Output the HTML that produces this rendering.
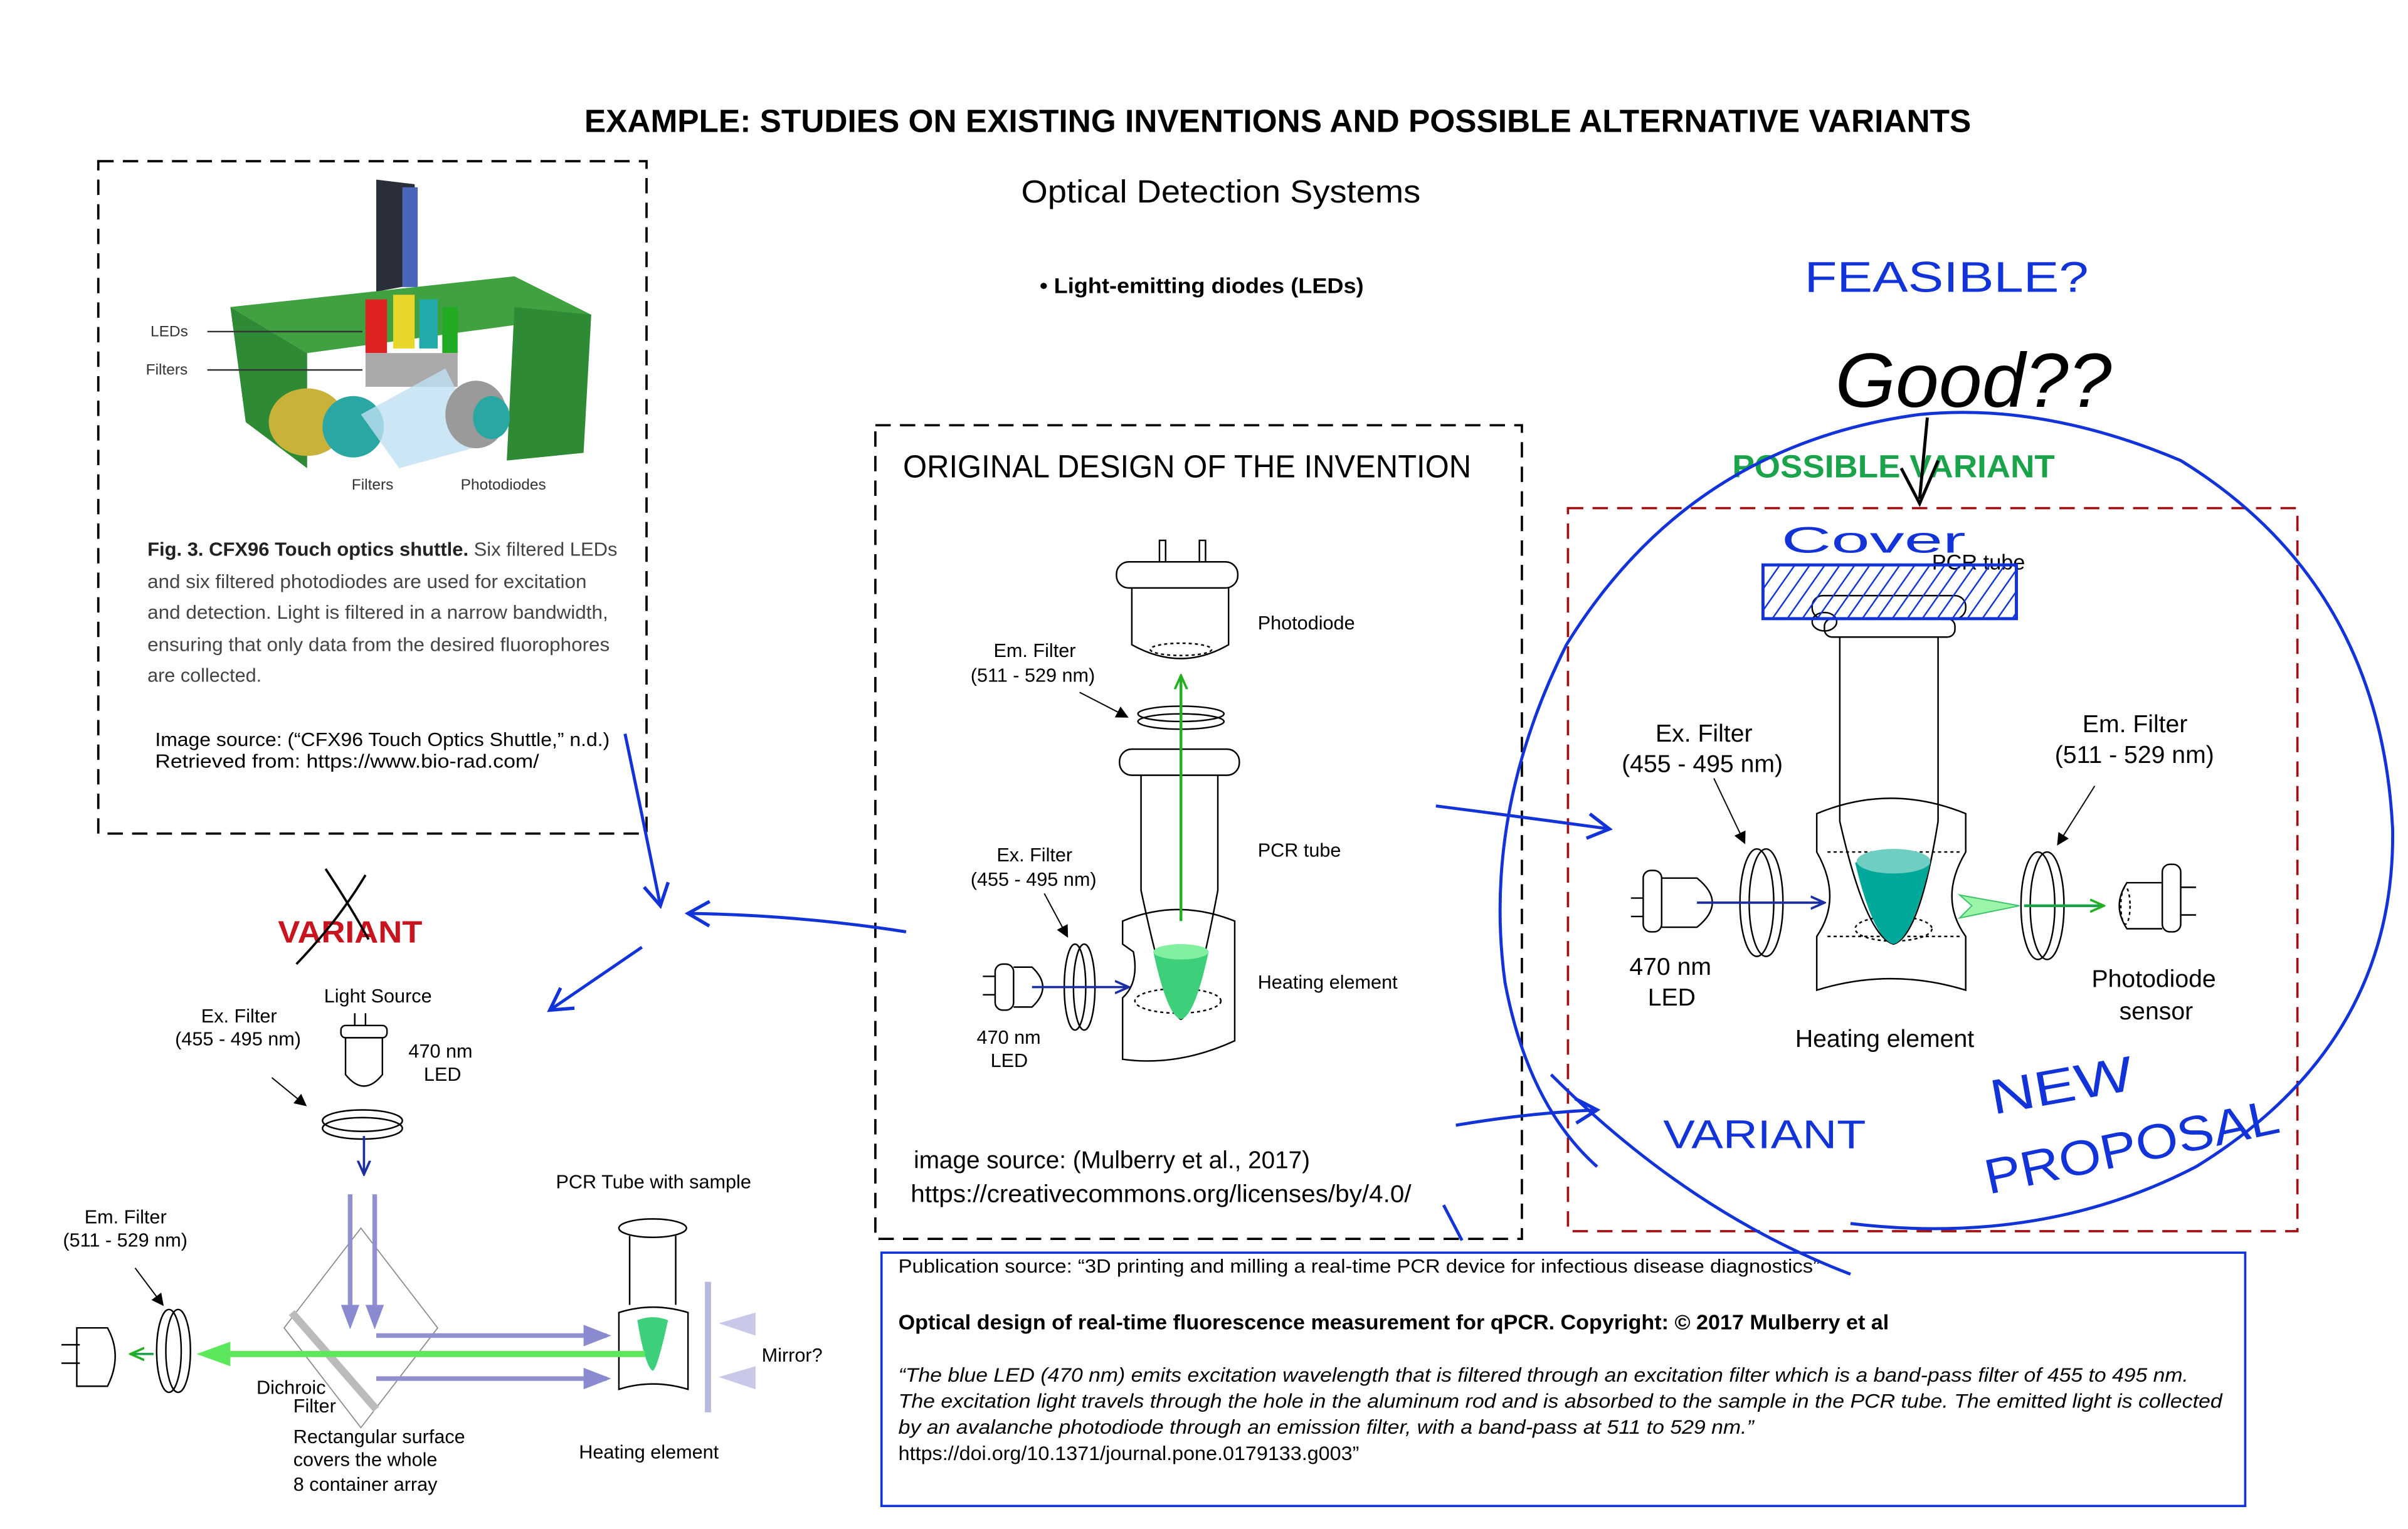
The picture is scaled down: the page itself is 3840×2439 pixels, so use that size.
<!DOCTYPE html>
<html><head><meta charset="utf-8">
<style>
html,body{margin:0;padding:0;background:#fff;}
svg{display:block;}
text{font-family:"Liberation Sans",sans-serif;}
</style></head>
<body>
<svg width="3840" height="2439" viewBox="0 0 1568 996" preserveAspectRatio="none" xmlns="http://www.w3.org/2000/svg">
<rect width="1568" height="996" fill="#fff"/>
<defs>
<marker id="ab" markerWidth="10" markerHeight="10" refX="9" refY="5" orient="auto" markerUnits="userSpaceOnUse"><path d="M0,1 L9,5 L0,9" fill="none" stroke="#1c2fa0" stroke-width="1.5"/></marker>
<marker id="ag" markerWidth="10" markerHeight="10" refX="9" refY="5" orient="auto" markerUnits="userSpaceOnUse"><path d="M0,1 L9,5 L0,9" fill="none" stroke="#22b022" stroke-width="1.5"/></marker>
<marker id="ak" markerWidth="8" markerHeight="8" refX="7" refY="4" orient="auto" markerUnits="userSpaceOnUse"><path d="M0,0 L8,4 L0,8z" fill="#000"/></marker>
<marker id="ahb" markerWidth="20" markerHeight="20" refX="16" refY="10" orient="auto" markerUnits="userSpaceOnUse"><path d="M2,2 L16,10 L2,18" fill="none" stroke="#1233d8" stroke-width="2.2"/></marker>
<pattern id="hatch" width="8" height="8" patternUnits="userSpaceOnUse" patternTransform="rotate(35)"><line x1="0" y1="0" x2="0" y2="8" stroke="#1233d8" stroke-width="2"/></pattern>
</defs>

<text x="832" y="86" text-anchor="middle" font-weight="bold" font-size="21" textLength="903" lengthAdjust="spacingAndGlyphs">EXAMPLE: STUDIES ON EXISTING INVENTIONS AND POSSIBLE ALTERNATIVE VARIANTS</text>
<text x="665" y="132" font-size="21" textLength="260" lengthAdjust="spacingAndGlyphs">Optical Detection Systems</text>
<text x="677" y="191" font-size="14" font-weight="bold" textLength="211" lengthAdjust="spacingAndGlyphs">• Light-emitting diodes (LEDs)</text>

<rect x="64" y="105" width="357" height="438" fill="none" stroke="#000" stroke-width="1.5" stroke-dasharray="10,6"/>
<polygon points="245,117 270,120 272,185 245,190" fill="#2a2d3a"/>
<rect x="262" y="122" width="10" height="65" fill="#4a66b8"/>
<polygon points="150,200 335,180 385,205 200,230" fill="#3fa13f"/>
<polygon points="150,200 200,230 200,305 160,275" fill="#2e8a34"/>
<polygon points="335,200 385,205 380,295 330,300" fill="#2e8a34"/>
<rect x="238" y="195" width="14" height="35" fill="#d22"/><rect x="256" y="192" width="14" height="35" fill="#e8d62a"/><rect x="273" y="195" width="12" height="32" fill="#2aa"/><rect x="288" y="200" width="10" height="30" fill="#2a2"/>
<rect x="238" y="230" width="60" height="22" fill="#aaa"/>
<ellipse cx="200" cy="275" rx="25" ry="22" fill="#c8b23a"/><ellipse cx="230" cy="278" rx="20" ry="20" fill="#2aa7a2"/>
<polygon points="235,270 290,240 315,290 260,305" fill="#bfe0f2" opacity="0.8"/>
<ellipse cx="310" cy="270" rx="20" ry="22" fill="#9a9a9a"/><ellipse cx="320" cy="272" rx="12" ry="14" fill="#2aa7a2"/>
<g font-size="10" fill="#333">
<text x="98" y="219">LEDs</text><line x1="135" y1="216" x2="236" y2="216" stroke="#333"/>
<text x="95" y="244">Filters</text><line x1="135" y1="241" x2="236" y2="241" stroke="#333"/>
<text x="229" y="319">Filters</text><text x="300" y="319">Photodiodes</text>
</g>
<g font-size="12.5" fill="#444">
<text x="96" y="362" textLength="306" lengthAdjust="spacingAndGlyphs"><tspan font-weight="bold" fill="#222">Fig. 3. CFX96 Touch optics shuttle.</tspan> Six filtered LEDs</text>
<text x="96" y="383" textLength="286" lengthAdjust="spacingAndGlyphs">and six filtered photodiodes are used for excitation</text>
<text x="96" y="403" textLength="300" lengthAdjust="spacingAndGlyphs">and detection. Light is filtered in a narrow bandwidth,</text>
<text x="96" y="424" textLength="301" lengthAdjust="spacingAndGlyphs">ensuring that only data from the desired fluorophores</text>
<text x="96" y="444">are collected.</text>
</g>
<text x="101" y="486" font-size="12.5" textLength="296" lengthAdjust="spacingAndGlyphs">Image source:  (“CFX96 Touch Optics Shuttle,” n.d.)</text>
<text x="101" y="500" font-size="12.5" textLength="250" lengthAdjust="spacingAndGlyphs">Retrieved from: https://www.bio-rad.com/</text>

<rect x="570" y="277" width="421" height="530" fill="none" stroke="#000" stroke-width="1.5" stroke-dasharray="10,6"/>
<text x="588" y="311" font-size="21" textLength="370" lengthAdjust="spacingAndGlyphs">ORIGINAL DESIGN OF THE INVENTION</text>
<g fill="none" stroke="#000" stroke-width="1">
<rect x="755" y="352" width="4" height="14"/><rect x="781" y="352" width="4" height="14"/>
<rect x="727" y="366" width="79" height="17" rx="8"/>
<path d="M737,383 V420 Q769,438 800,420 V383"/>
<ellipse cx="769" cy="423" rx="20" ry="4" stroke-dasharray="2,2"/>
<ellipse cx="769" cy="465" rx="28" ry="5"/><ellipse cx="769" cy="470" rx="28" ry="5"/>
<rect x="729" y="488" width="78" height="17" rx="8"/>
<path d="M743,505 V580 Q760,660 769,664 Q778,660 793,580 V505"/>
<path d="M731,600 Q767,585 804,600 V678 Q767,695 731,690 V650 Q742,640 738,620 L731,615 Z"/>
<ellipse cx="767" cy="652" rx="28" ry="8" stroke-dasharray="2,2"/>
<path d="M640,636 H648 M640,648 H648"/><rect x="648" y="628" width="12" height="30" rx="5"/>
<path d="M660,630 H672 Q686,643 672,656 H660"/>
<ellipse cx="700" cy="643" rx="7" ry="28"/><ellipse cx="706" cy="643" rx="7" ry="28"/>
</g>
<path d="M751,620 Q769,610 787,620 Q778,662 769,664 Q760,662 751,620Z" fill="#3ecf7a"/>
<ellipse cx="769" cy="620" rx="18" ry="5" fill="#82f0a0"/>
<line x1="769" y1="600" x2="769" y2="440" stroke="#22b022" stroke-width="1.8" marker-end="url(#ag)"/>
<line x1="672" y1="643" x2="735" y2="643" stroke="#1c2fa0" stroke-width="1.5" marker-end="url(#ab)"/>
<line x1="703" y1="451" x2="734" y2="467" stroke="#000" stroke-width="0.8" marker-end="url(#ak)"/>
<line x1="680" y1="582" x2="695" y2="610" stroke="#000" stroke-width="0.8" marker-end="url(#ak)"/>
<g font-size="12.5">
<text x="819" y="410">Photodiode</text>
<text x="647" y="428">Em. Filter</text><text x="632" y="444">(511 - 529 nm)</text>
<text x="819" y="558">PCR tube</text>
<text x="649" y="561">Ex. Filter</text><text x="632" y="577">(455 - 495 nm)</text>
<text x="819" y="644">Heating element</text>
<text x="636" y="680">470 nm</text><text x="645" y="695">LED</text>
</g>
<text x="595" y="761" font-size="16" textLength="258" lengthAdjust="spacingAndGlyphs">image source: (Mulberry et al., 2017)</text>
<text x="593" y="783" font-size="16" textLength="326" lengthAdjust="spacingAndGlyphs">https://creativecommons.org/licenses/by/4.0/</text>

<text x="1128" y="311" font-size="21" font-weight="bold" fill="#1aa34a" textLength="210" lengthAdjust="spacingAndGlyphs">POSSIBLE VARIANT</text>
<rect x="1021" y="331" width="475" height="471" fill="none" stroke="#a01010" stroke-width="1.5" stroke-dasharray="10,6"/>
<text x="1258" y="371" font-size="14">PCR tube</text>
<g fill="none" stroke="#000" stroke-width="1">
<ellipse cx="1188" cy="405" rx="8" ry="6"/>
<rect x="1180" y="388" width="100" height="15" rx="7"/><rect x="1188" y="403" width="85" height="12" rx="5"/>
<path d="M1198,415 V535 Q1215,610 1233,615 Q1250,610 1262,535 V415"/>
<path d="M1183,530 Q1231,510 1280,530 V555 Q1262,585 1280,610 V645 Q1231,630 1183,645 V610 Q1200,585 1183,555 Z"/>
<path d="M1190,555 H1276 M1190,610 H1276" stroke-dasharray="2,2"/>
<ellipse cx="1233" cy="605" rx="25" ry="8" stroke-dasharray="2,2"/>
<path d="M1062,585 H1070 M1062,597 H1070"/><rect x="1070" y="567" width="12" height="40" rx="5"/>
<path d="M1082,572 H1105 Q1125,588 1105,604 H1082"/>
<ellipse cx="1144" cy="588" rx="11" ry="35"/><ellipse cx="1150" cy="588" rx="11" ry="35"/>
<ellipse cx="1327" cy="590" rx="11" ry="35"/><ellipse cx="1333" cy="590" rx="11" ry="35"/>
<path d="M1408,575 H1385 Q1375,590 1385,605 H1408"/><rect x="1408" y="563" width="12" height="44" rx="5"/><path d="M1420,578 H1430 M1420,596 H1430"/>
<ellipse cx="1384" cy="590" rx="3" ry="12" stroke-dasharray="2,2"/>
</g>
<path d="M1208,562 Q1233,550 1257,562 Q1245,612 1233,615 Q1220,612 1208,562Z" fill="#00a89a"/>
<ellipse cx="1233" cy="561" rx="24" ry="8" fill="#6fcdc2"/>
<line x1="1105" y1="588" x2="1188" y2="588" stroke="#1c2fa0" stroke-width="1.5" marker-end="url(#ab)"/>
<polygon points="1276,583 1315,590 1276,598 1284,590" fill="#9af5a8" stroke="#3ec36b" stroke-width="0.8"/>
<line x1="1318" y1="590" x2="1370" y2="590" stroke="#1aa34a" stroke-width="1.8" marker-end="url(#ag)"/>
<line x1="1116" y1="507" x2="1136" y2="549" stroke="#000" stroke-width="0.8" marker-end="url(#ak)"/>
<line x1="1364" y1="512" x2="1340" y2="550" stroke="#000" stroke-width="0.8" marker-end="url(#ak)"/>
<g font-size="16">
<text x="1078" y="483">Ex. Filter</text><text x="1056" y="503">(455 - 495 nm)</text>
<text x="1356" y="477">Em. Filter</text><text x="1338" y="497">(511 - 529 nm)</text>
<text x="1061" y="635">470 nm</text><text x="1073" y="655">LED</text>
<text x="1362" y="643">Photodiode</text><text x="1380" y="664">sensor</text>
<text x="1169" y="682">Heating element</text>
</g>

<rect x="574" y="816" width="888" height="165" fill="none" stroke="#1233d8" stroke-width="1.5"/>
<text x="585" y="829" font-size="12.5" textLength="600" lengthAdjust="spacingAndGlyphs">Publication source:  “3D printing and milling a real-time PCR device for infectious disease diagnostics”</text>
<text x="585" y="866" font-size="13.5" font-weight="bold" textLength="645" lengthAdjust="spacingAndGlyphs">Optical design of real-time fluorescence measurement for qPCR. Copyright: © 2017 Mulberry et al</text>
<g font-size="13" font-style="italic">
<text x="585" y="900" textLength="840" lengthAdjust="spacingAndGlyphs">“The blue LED (470 nm) emits excitation wavelength that is filtered through an excitation filter which is a band-pass filter of 455 to 495 nm.</text>
<text x="585" y="917" textLength="862" lengthAdjust="spacingAndGlyphs">The excitation light travels through the hole in the aluminum rod and is absorbed to the sample in the PCR tube. The emitted light is collected</text>
<text x="585" y="934" textLength="557" lengthAdjust="spacingAndGlyphs">by an avalanche photodiode through an emission filter, with a band-pass at 511 to 529 nm.”</text>
</g>
<text x="585" y="951" font-size="13" textLength="300" lengthAdjust="spacingAndGlyphs">https://doi.org/10.1371/journal.pone.0179133.g003”</text>

<text x="181" y="614" font-size="20" font-weight="bold" fill="#c8141e" textLength="94" lengthAdjust="spacingAndGlyphs">VARIANT</text>
<path d="M212,566 Q228,590 240,612 M238,570 Q220,600 193,628" stroke="#000" stroke-width="1.5" fill="none"/>
<g font-size="12.5">
<text x="211" y="653">Light Source</text>
<text x="131" y="666">Ex. Filter</text><text x="114" y="681">(455 - 495 nm)</text>
<text x="266" y="689">470 nm</text><text x="276" y="704">LED</text>
<text x="55" y="797">Em. Filter</text><text x="41" y="812">(511 - 529 nm)</text>
<text x="362" y="774">PCR Tube with sample</text>
<text x="496" y="887">Mirror?</text>
<text x="167" y="908">Dichroic</text><text x="191" y="920">Filter</text>
<text x="191" y="940">Rectangular surface</text><text x="191" y="955">covers the whole</text><text x="191" y="971">8 container array</text>
<text x="377" y="950">Heating element</text>
</g>
<g fill="none" stroke="#000" stroke-width="1">
<path d="M231,660 V668 M238,660 V668"/><rect x="222" y="668" width="30" height="8" rx="3"/>
<path d="M225,676 V700 Q237,715 249,700 V676"/>
<ellipse cx="236" cy="730" rx="26" ry="7"/><ellipse cx="236" cy="735" rx="26" ry="7"/>
<line x1="177" y1="702" x2="199" y2="720" marker-end="url(#ak)" stroke-width="0.8"/>
<line x1="88" y1="826" x2="106" y2="850" marker-end="url(#ak)" stroke-width="0.8"/>
<polygon points="235,800 285,865 235,930 185,865" stroke="#888" stroke-width="0.7"/>
<ellipse cx="110" cy="880" rx="8" ry="27"/><ellipse cx="116" cy="880" rx="8" ry="27"/>
<path d="M50,865 H70 Q80,883 70,903 H50 Z"/><path d="M40,876 H52 M40,888 H52"/>
<ellipse cx="425" cy="800" rx="22" ry="6"/><path d="M410,805 V850 M440,805 V850"/>
<path d="M403,855 Q425,848 448,855 V905 Q425,898 403,905 Z"/>
</g>
<line x1="237" y1="740" x2="237" y2="765" stroke="#1c2fa0" stroke-width="1.5" marker-end="url(#ab)"/>
<line x1="190" y1="855" x2="245" y2="918" stroke="#bbb" stroke-width="5"/>
<g stroke="#9090d0" stroke-width="3">
<line x1="228" y1="778" x2="228" y2="862"/><line x1="244" y1="778" x2="244" y2="862"/>
<line x1="245" y1="870" x2="395" y2="870"/><line x1="245" y1="898" x2="395" y2="898"/>
</g>
<g fill="#8a8ad0"><polygon points="222,850 234,850 228,866"/><polygon points="238,850 250,850 244,866"/>
<polygon points="380,863 398,870 380,877"/><polygon points="380,891 398,898 380,905"/>
<polygon points="492,855 468,862 492,870" fill="#c8c8e8"/><polygon points="492,890 468,897 492,905" fill="#c8c8e8"/></g>
<rect x="459" y="835" width="4" height="85" fill="#b8b8e0"/>
<path d="M415,860 Q425,856 435,860 Q428,892 425,893 Q420,890 415,860Z" fill="#3ecf7a"/>
<line x1="420" y1="882" x2="135" y2="882" stroke="#5ce85c" stroke-width="4"/>
<polygon points="150,874 128,882 150,890" fill="#5ce85c"/>
<line x1="100" y1="882" x2="85" y2="882" stroke="#1aa34a" stroke-width="1.5" marker-end="url(#ag)"/>

<g fill="none" stroke="#1233d8" stroke-width="2">
<path d="M407,478 Q420,540 430,590" marker-end="url(#ahb)"/>
<path d="M590,607 Q520,596 448,595" marker-end="url(#ahb)"/>
<path d="M418,617 L358,658" marker-end="url(#ahb)"/>
<path d="M935,525 Q990,532 1048,540" marker-end="url(#ahb)"/>
<path d="M948,733 Q995,725 1040,723" marker-end="url(#ahb)"/>
<path d="M940,785 L952,808"/>
<path d="M1010,700 Q1100,790 1205,830"/>
<path d="M1205,797 Q1330,812 1430,760 Q1560,680 1558,540 Q1550,380 1420,300 Q1330,262 1250,270 Q1100,290 1020,420 Q965,530 980,640 Q995,720 1040,760"/>
<rect x="1148" y="368" width="165" height="35" fill="url(#hatch)" stroke-width="2"/>
<path d="M1255,272 L1250,325 M1238,305 L1250,328 L1262,300" stroke="#000"/>
</g>
<g fill="#1233d8">
<text x="1175" y="190" font-size="28" textLength="185" lengthAdjust="spacingAndGlyphs">FEASIBLE?</text>
<text x="1160" y="360" font-size="24" textLength="120" lengthAdjust="spacingAndGlyphs">Cover</text>
<text x="1083" y="748" font-size="26" textLength="132" lengthAdjust="spacingAndGlyphs">VARIANT</text>
<text x="1298" y="726" font-size="32" textLength="94" lengthAdjust="spacingAndGlyphs" transform="rotate(-10 1298 726)">NEW</text>
<text x="1295" y="778" font-size="32" textLength="195" lengthAdjust="spacingAndGlyphs" transform="rotate(-12 1295 778)">PROPOSAL</text>
</g>
<text x="1195" y="265" font-size="50" font-family="Liberation Serif" font-style="italic" textLength="180" lengthAdjust="spacingAndGlyphs">Good??</text>
</svg>
</body></html>
